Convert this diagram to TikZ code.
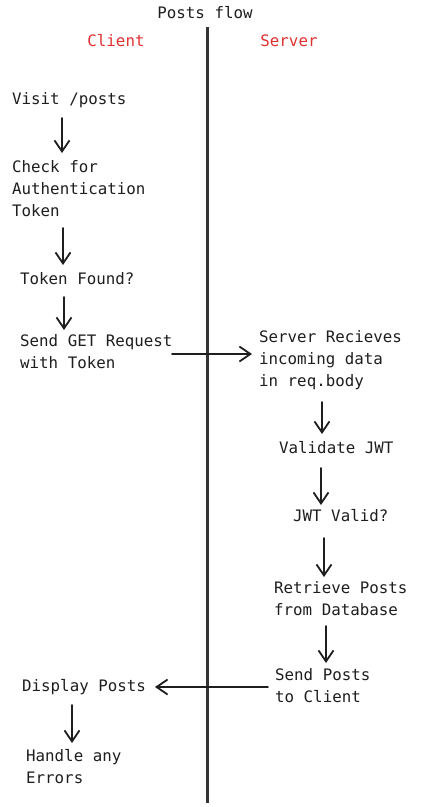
\documentclass[tikz,border=0pt]{standalone}
\usepackage{fontspec}
\setmonofont{DejaVu Sans Mono}
\usetikzlibrary{arrows.meta}
\definecolor{ink}{HTML}{1E1E1E}
\definecolor{exred}{HTML}{E03131}
\tikzset{
  txt/.style={inner sep=0pt, anchor=west, align=left, text=ink,
    font=\ttfamily\fontsize{15.8}{22}\selectfont},
  head/.style={inner sep=0pt, text=exred, font=\ttfamily\fontsize{15.8}{22}\selectfont},
  arr/.style={draw=ink, line width=1.8pt, line cap=round,
    -{Straight Barb[length=11pt,width=15pt,line width=1.8pt]}},
  divider/.style={draw=ink!90, line width=3pt}
}
\begin{document}
\begin{tikzpicture}[x=1pt,y=-1pt]
\useasboundingbox (0,0) rectangle (422,807);
\fill[white] (0,0) rectangle (422,807);
% title and lanes
\node[inner sep=0pt, text=ink, font=\ttfamily\fontsize{15.8}{22}\selectfont] (title) at (205,13) {Posts flow};
\coordinate (divtop) at (207,27);
\coordinate (divbot) at (207,803);
\draw[divider] (divtop) -- (divbot);
\node[head] (client) at (116,41) {Client};
\node[head] (server) at (289,41) {Server};
% client side
\node[txt] (visit) at (12,100) {Visit /posts};
\node[txt] (check) at (12,189) {Check for\\Authentication\\Token};
\node[txt] (found) at (20,279) {Token Found?};
\node[txt] (send) at (20,351.5) {Send GET Request\\with Token};
\node[txt] (display) at (22,687) {Display Posts};
\node[txt] (handle) at (26,766.5) {Handle any\\Errors};
% server side
\node[txt] (recv) at (259,360) {Server Recieves\\incoming data\\in req.body};
\node[txt] (validate) at (279,448) {Validate JWT};
\node[txt] (valid) at (293,516) {JWT Valid?};
\node[txt] (retrieve) at (274,599) {Retrieve Posts\\from Database};
\node[txt] (sendposts) at (275,686) {Send Posts\\to Client};
% arrow end points
\coordinate (a1s) at (62,118); \coordinate (a1e) at (62,153);
\coordinate (a2s) at (63,228); \coordinate (a2e) at (63,265);
\coordinate (a3s) at (64,297); \coordinate (a3e) at (64,330);
\coordinate (h1s) at (172,354); \coordinate (h1e) at (252,354);
\coordinate (a4s) at (322,402); \coordinate (a4e) at (322,434);
\coordinate (a5s) at (321,468); \coordinate (a5e) at (321,505);
\coordinate (a6s) at (324,538); \coordinate (a6e) at (324,577);
\coordinate (a7s) at (326,626); \coordinate (a7e) at (326,663);
\coordinate (h2s) at (268,687); \coordinate (h2e) at (155,687);
\coordinate (a8s) at (72,705); \coordinate (a8e) at (72,743);
\draw[arr] (a1s) -- (a1e);
\draw[arr] (a2s) -- (a2e);
\draw[arr] (a3s) -- (a3e);
\draw[arr] (h1s) -- (h1e);
\draw[arr] (a4s) -- (a4e);
\draw[arr] (a5s) -- (a5e);
\draw[arr] (a6s) -- (a6e);
\draw[arr] (a7s) -- (a7e);
\draw[arr] (h2s) -- (h2e);
\draw[arr] (a8s) -- (a8e);
\end{tikzpicture}
\end{document}
